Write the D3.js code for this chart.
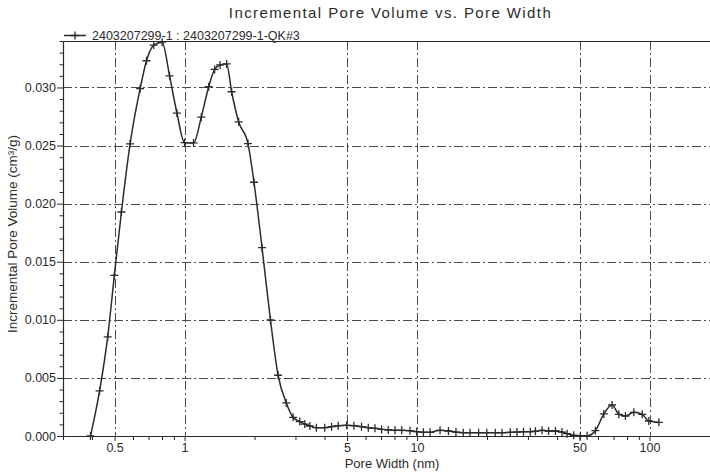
<!DOCTYPE html>
<html>
<head>
<meta charset="utf-8">
<script src="https://cdn.jsdelivr.net/npm/d3@7"></script>
<style>
  html, body { margin: 0; padding: 0; background: #fff; }
  svg { display: block; font-family: "Liberation Sans", Arial, sans-serif; }
</style>
</head>
<body>
<svg id="chart" width="710" height="472"></svg>
<script>
// Incremental pore volume distribution, sample 2403207299-1
const poreWidth = [
  0.394, 0.431, 0.467, 0.499, 0.535, 0.583, 0.644, 0.686, 0.737, 0.801,
  0.862, 0.927, 1.0, 1.093, 1.18, 1.27, 1.347, 1.422, 1.517, 1.594,
  1.709, 1.874, 1.989, 2.154, 2.341, 2.525, 2.74,
  2.93, 3.13, 3.29, 3.46, 3.69, 4.01, 4.29, 4.58, 4.98, 5.35,
  5.77, 6.17, 6.59, 7.04, 7.52, 8.04, 8.59, 9.33, 9.97, 10.65,
  11.38, 12.56, 13.65, 14.7, 15.8, 16.9, 18.4, 19.95, 21.7, 23.2,
  25.2, 26.9, 28.7, 30.7, 32.3, 34.5, 36.8, 39.4, 42.0, 44.2,
  47.2, 50.4, 53.9, 58.5, 63.6, 69.0, 73.8, 78.8, 85.6, 93.0,
  99.3, 109.7
];
const incVolume = [
  0, 0.00388, 0.00853, 0.01382, 0.01928, 0.02515, 0.0299, 0.0323, 0.03365, 0.0339,
  0.0310, 0.0278, 0.02525, 0.02523, 0.02744, 0.03006, 0.03155, 0.03194, 0.03203, 0.02963,
  0.02704, 0.02517, 0.02184, 0.01621, 0.0100, 0.00523, 0.00285,
  0.00161, 0.00124, 0.00103, 0.00086, 0.00072, 0.00072, 0.0008, 0.00089, 0.00092, 0.00089,
  0.0008, 0.00072, 0.00066, 0.00057, 0.00052, 0.00049, 0.00049, 0.00046, 0.00037, 0.00032,
  0.00032, 0.00049, 0.00043, 0.00034, 0.00029, 0.00029, 0.00029, 0.00029, 0.00029, 0.00029,
  0.00032, 0.00034, 0.00037, 0.00037, 0.0004, 0.00049, 0.00043, 0.00043, 0.00034, 0.0002,
  0.00006, 0.00003, 0.00003, 0.00046, 0.0019, 0.00267, 0.00187, 0.00172, 0.00204, 0.00187,
  0.00129, 0.00118
];
const xMajorTicks = [0.5, 1, 5, 10, 50, 100];
const xMinorTicks = [0.3, 0.4, 0.6, 0.7, 0.8, 0.9, 2, 3, 4, 6, 7, 8, 9, 20, 30, 40, 60, 70, 80, 90, 200];
const yMajorTicks = [0, 0.005, 0.010, 0.015, 0.020, 0.025, 0.030];
const yMinorTicks = d3.range(1, 35).map(i => i / 1000).filter(v => Math.round(v * 1000) % 5 !== 0);

const titleText = "Incremental Pore Volume vs. Pore Width";
const seriesName = "2403207299-1 : 2403207299-1-QK#3";
const xTitle = "Pore Width (nm)";
const yTitle = "Incremental Pore Volume (cm³/g)";

const svg = d3.select("#chart");
const ink = "#2b2b2b";
const gridInk = "#4a4a4a";

const plotLeft = 63, plotTop = 41, plotBottom = 436, plotRight = 719.5;
const x = d3.scaleLog().domain([0.3, 200]).range([plotLeft, plotRight]);
const y = d3.scaleLinear().domain([0, 0.034]).range([plotBottom, plotTop]);

const data = poreWidth.map((w, i) => ({ w, v: incVolume[i] }));

// grid
const grid = svg.append("g").attr("stroke", gridInk).attr("stroke-width", 1)
  .attr("stroke-dasharray", "9,3,2,3").attr("fill", "none");
grid.selectAll("line.h").data(yMajorTicks.filter(v => v > 0)).join("line")
  .attr("x1", plotLeft).attr("x2", 710)
  .attr("y1", d => Math.round(y(d)) + 0.5).attr("y2", d => Math.round(y(d)) + 0.5);
grid.selectAll("line.v").data(xMajorTicks).join("line")
  .attr("y1", plotTop).attr("y2", plotBottom)
  .attr("x1", d => Math.round(x(d)) + 0.5).attr("x2", d => Math.round(x(d)) + 0.5);

// axes
const fontSize = "12.5px";
const xAxisMajor = svg.append("g").attr("transform", `translate(0,${plotBottom})`)
  .call(d3.axisBottom(x).tickValues(xMajorTicks).tickFormat(d3.format("")).tickSize(5).tickPadding(2.5));
const xAxisMinor = svg.append("g").attr("transform", `translate(0,${plotBottom})`)
  .call(d3.axisBottom(x).tickValues(xMinorTicks).tickFormat("").tickSize(4));
const yAxisMajor = svg.append("g").attr("transform", `translate(${plotLeft},0)`)
  .call(d3.axisLeft(y).tickValues(yMajorTicks).tickFormat(d3.format(".3f")).tickSize(6).tickPadding(1));
const yAxisMinor = svg.append("g").attr("transform", `translate(${plotLeft},0)`)
  .call(d3.axisLeft(y).tickValues(yMinorTicks).tickFormat("").tickSize(3.5));

[xAxisMajor, xAxisMinor, yAxisMajor, yAxisMinor].forEach(g => {
  g.selectAll("path.domain").attr("stroke", ink).attr("stroke-width", 1.2);
  g.selectAll(".tick line").attr("stroke", ink).attr("stroke-width", 1);
  g.selectAll(".tick text").attr("fill", ink).style("font-size", fontSize)
    .style("font-family", '"Liberation Sans", Arial, sans-serif');
});
xAxisMajor.select("path.domain").attr("d", `M${plotLeft},0.5H710`);
xAxisMinor.select("path.domain").remove();
yAxisMinor.select("path.domain").remove();
yAxisMajor.select("path.domain").attr("d", `M0.5,${plotTop}V${plotBottom}`);

// top frame
svg.append("line").attr("x1", plotLeft).attr("x2", 710).attr("y1", plotTop + 0.5).attr("y2", plotTop + 0.5)
  .attr("stroke", ink).attr("stroke-width", 1.2);

// series line
const line = d3.line().x(d => x(d.w)).y(d => y(d.v)).curve(d3.curveMonotoneX);
svg.append("path").datum(data).attr("d", line)
  .attr("fill", "none").attr("stroke", ink).attr("stroke-width", 1.5);

// plus markers
const plus = (cx, cy, s) => `M${cx - s},${cy}H${cx + s}M${cx},${cy - s}V${cy + s}`;
svg.append("g").selectAll("path").data(data).join("path")
  .attr("d", d => plus(x(d.w), y(d.v), 4))
  .attr("stroke", ink).attr("stroke-width", 1.3).attr("fill", "none");

// legend
svg.append("line").attr("x1", 64).attr("x2", 86).attr("y1", 35.5).attr("y2", 35.5)
  .attr("stroke", ink).attr("stroke-width", 1.5);
svg.append("path").attr("d", plus(75, 35.5, 4)).attr("stroke", ink).attr("stroke-width", 1.3);
svg.append("text").attr("x", 92).attr("y", 39.5).attr("fill", ink)
  .style("font-size", fontSize).text(seriesName);

// titles
svg.append("text").attr("x", 390.5).attr("y", 17.5).attr("text-anchor", "middle")
  .attr("fill", ink).style("font-size", "15px").style("letter-spacing", "1.4px").text(titleText);
svg.append("text").attr("x", 392).attr("y", 468).attr("text-anchor", "middle")
  .attr("fill", ink).style("font-size", "13px").text(xTitle);
svg.append("text").attr("transform", "translate(17,234) rotate(-90)").attr("text-anchor", "middle")
  .attr("fill", ink).style("font-size", "13.5px").text(yTitle);
</script>
</body>
</html>
